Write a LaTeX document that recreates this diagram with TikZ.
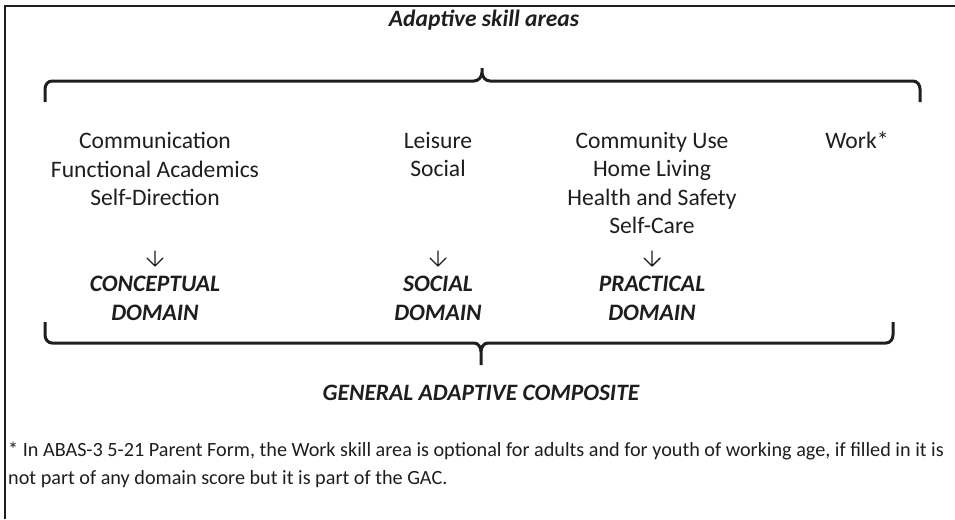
\documentclass[tikz,border=0pt]{standalone}
\usepackage{fontspec}
\setmainfont{Carlito}
\definecolor{ink}{HTML}{1E1E1E}
\tikzset{
  frameline/.style={draw=ink, line width=1.6pt},
  bracepath/.style={draw=ink, line width=3pt, line cap=butt},
  skill/.style={anchor=north, inner sep=0pt, align=center, text=ink,
    font=\fontsize{23.6}{28.5}\selectfont},
  domainbox/.style={anchor=north, inner sep=0pt, align=center, text=ink,
    font=\fontsize{23.6}{28.5}\selectfont\bfseries\itshape},
  heading/.style={anchor=base, inner sep=0pt, text=ink,
    font=\fontsize{23.5}{28}\selectfont\bfseries\itshape},
  note/.style={anchor=north west, inner sep=0pt, align=left, text=ink,
    font=\fontsize{20.2}{27.5}\selectfont},
  arrowline/.style={draw=ink, line width=1.4pt, line cap=round, line join=round},
}
\begin{document}
\begin{tikzpicture}[x=1pt,y=-1pt]
\useasboundingbox (0,0) rectangle (955,519);
% frame (top and left edges only)
\draw[frameline] (5,519) -- (5,6) -- (955,6);
% title
\node[heading] (title) at (484,27) {Adaptive skill areas};
% top brace
\draw[bracepath] (45,102) -- (45,89) to[out=90,in=180] (52,81) -- (474,81)
  to[out=0,in=-90] (482,72) -- (482,68) -- (482,72) to[out=-90,in=180] (490,81)
  -- (913,81) to[out=0,in=90] (920,89) -- (920,102);
% skill columns
\node[skill] (c1) at (155,132) {Communication\\Functional Academics\\Self-Direction};
\node[skill] (c2) at (438,132) {Leisure\\Social};
\node[skill] (c3) at (652,132) {Community Use\\Home Living\\Health and Safety\\Self-Care};
\node[skill] (c4) at (857,132) {Work*};
% domains
\node[domainbox] (d1) at (155,276) {CONCEPTUAL\\DOMAIN};
\node[domainbox] (d2) at (438,276) {SOCIAL\\DOMAIN};
\node[domainbox] (d3) at (652,276) {PRACTICAL\\DOMAIN};
% arrows
\foreach \d in {d1,d2,d3}{
  \draw[arrowline] ([yshift=25pt]\d.north) -- ([yshift=10pt]\d.north) coordinate (tip\d)
    ++(-8,-8) -- (tip\d) -- ++(8,-8);
}
% bottom brace
\draw[bracepath] (45,322) -- (45,335) to[out=-90,in=180] (52,343) -- (474,343)
  to[out=0,in=90] (481,352) -- (481,365) -- (481,352) to[out=90,in=180] (488,343)
  -- (886,343) to[out=0,in=-90] (893,335) -- (893,322);
% composite
\node[heading] (gac) at (481,400) {GENERAL ADAPTIVE COMPOSITE};
% footnote
\node[note] (fn) at (8,442) {* In ABAS-3 5-21 Parent Form, the Work skill area is optional for adults and for youth of working age, if filled in it is\\not part of any domain score but it is part of the GAC.};
\end{tikzpicture}
\end{document}
